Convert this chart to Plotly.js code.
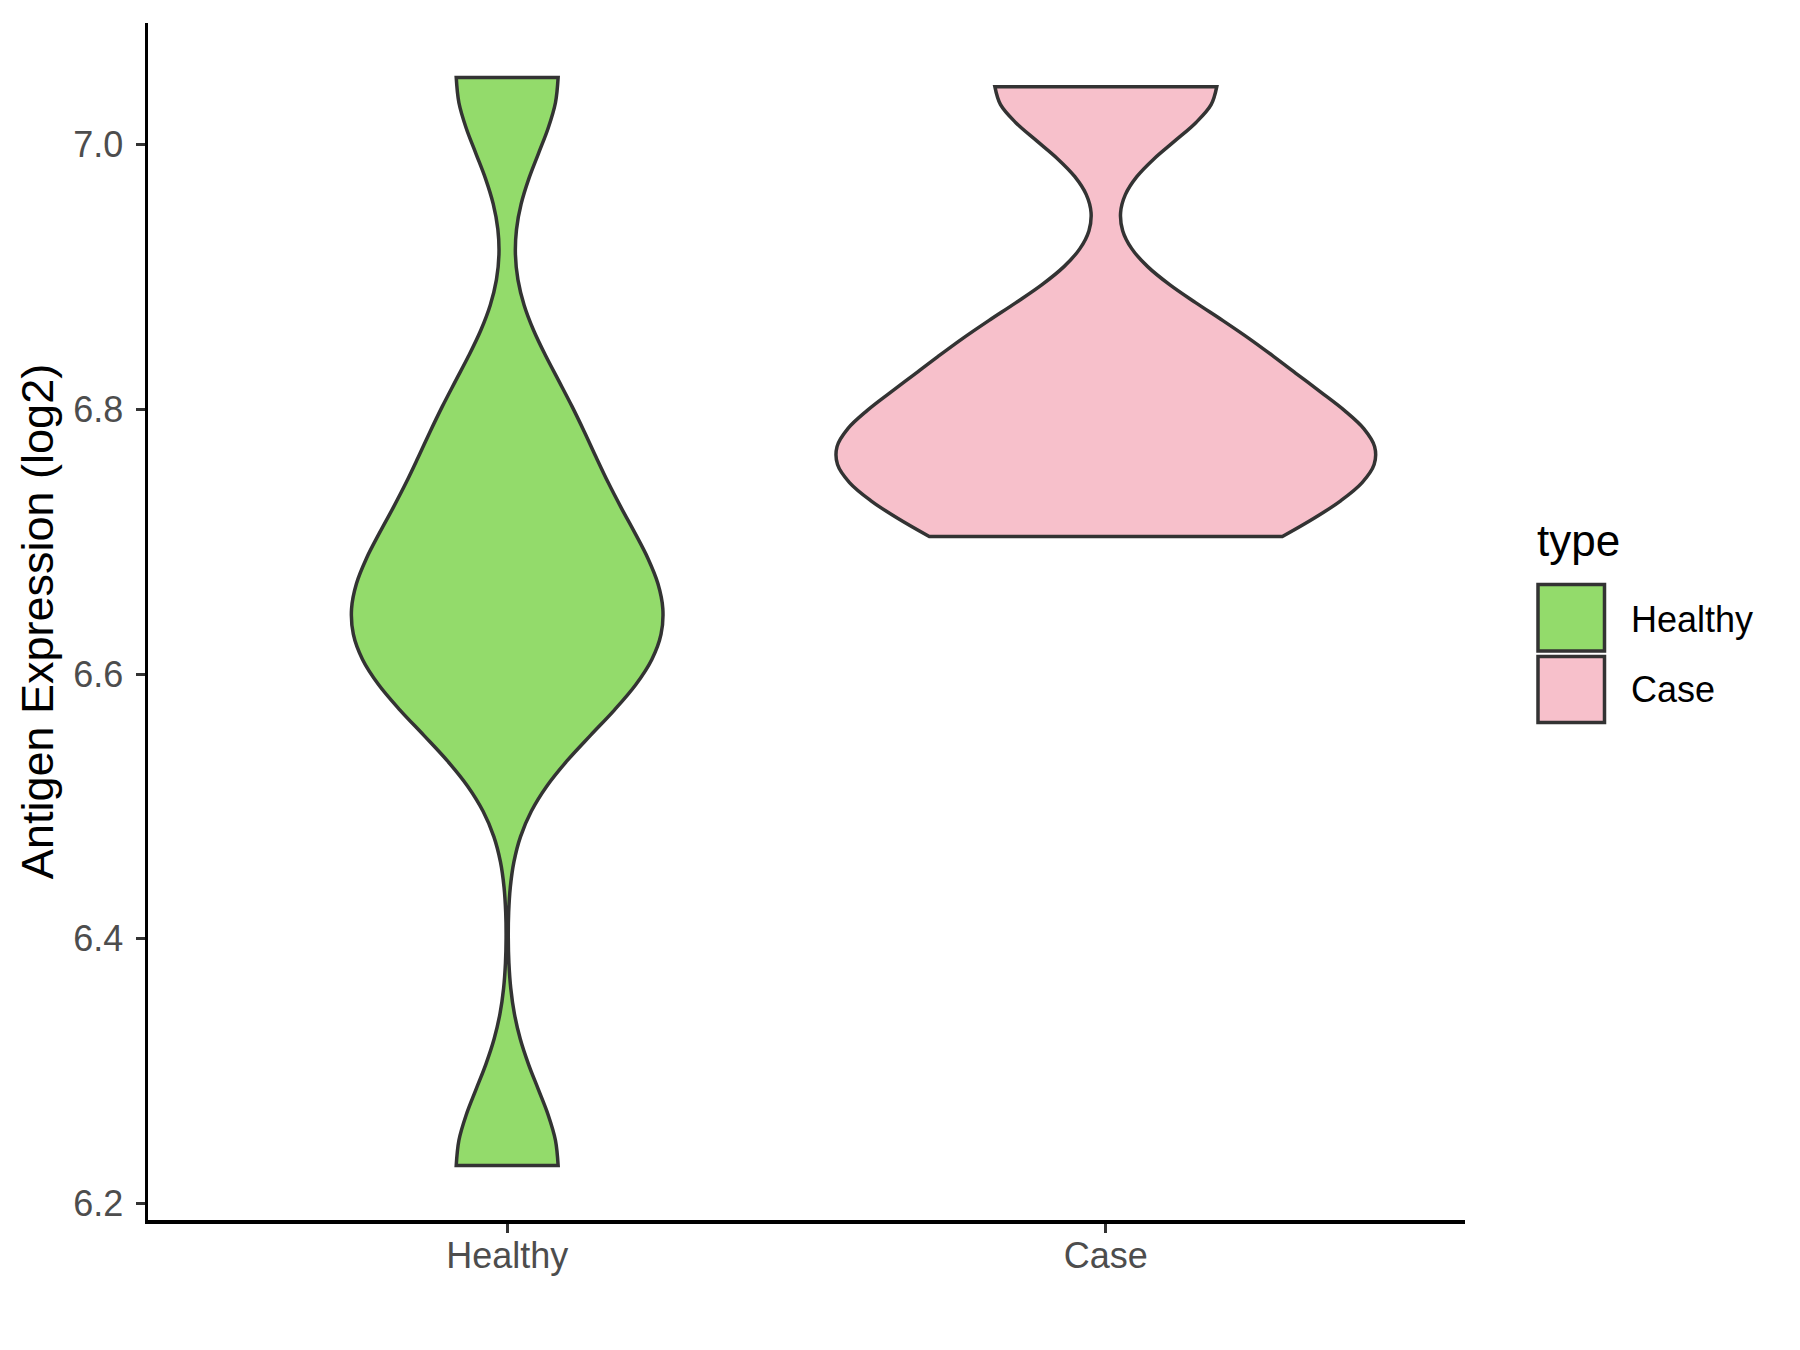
<!DOCTYPE html>
<html>
<head>
<meta charset="utf-8">
<script src="https://cdn.plot.ly/plotly-3.0.1.min.js"></script>
<style>
  html, body { margin: 0; padding: 0; background: #ffffff; }
  #chart { width: 1800px; height: 1350px; }
</style>
</head>
<body>
<div id="chart"></div>
<script>
// ---- data ----
const categories = ['Healthy', 'Case'];
const healthyValues = [6.2286, 6.580, 6.621, 6.660, 6.704, 6.790, 7.051];
const caseValues = [6.704, 6.762, 6.779, 6.848, 7.044];
const bandwidths = [0.058, 0.042];
const yTickValues = [6.2, 6.4, 6.6, 6.8, 7.0];
const yTickLabels = ['6.2', '6.4', '6.6', '6.8', '7.0'];
const legendTitle = 'type';
const yTitle = 'Antigen Expression (log2)';

// ---- styles ----
const fills = ['#93DB6B', '#F7C0CB'];
const outline = '#333333';
const violinWidths = [0.52, 0.898];
const FONT = 'Liberation Sans, Arial, Helvetica, sans-serif';

const W = 1800, H = 1350;
const M = { l: 148, r: 335, t: 23, b: 130 };
const PW = W - M.l - M.r, PH = H - M.t - M.b;
const px2x = px => (px - M.l) / PW;
const px2y = py => (H - M.b - py) / PH;

const series = [healthyValues, caseValues];
const traces = series.map((vals, i) => ({
  type: 'violin',
  name: categories[i],
  x: vals.map(() => categories[i]),
  y: vals,
  spanmode: 'hard',
  bandwidth: bandwidths[i],
  scalemode: 'width',
  width: violinWidths[i],
  points: false,
  box: { visible: false },
  meanline: { visible: false },
  fillcolor: fills[i],
  line: { color: outline, width: 3.5 },
  hoverinfo: 'skip',
  showlegend: false
}));

// y range with ggplot's 5% expansion
const allVals = healthyValues.concat(caseValues);
const yMin = Math.min(...allVals), yMax = Math.max(...allVals);
const pad = (yMax - yMin) * 0.05;

// custom ggplot-like legend
const keyX0 = 1538, keyX1 = 1604.5;
const keyRows = [[584.5, 651], [656.5, 722.5]];
const shapes = keyRows.map((r, i) => ({
  type: 'rect', xref: 'paper', yref: 'paper',
  x0: px2x(keyX0), x1: px2x(keyX1), y0: px2y(r[1]), y1: px2y(r[0]),
  fillcolor: fills[i], line: { color: outline, width: 3.5 }
}));
const labelCenters = [619.5, 689.5];
const annotations = [{
  xref: 'paper', yref: 'paper', x: px2x(1535), y: px2y(540),
  xanchor: 'left', yanchor: 'middle', showarrow: false,
  text: legendTitle, font: { family: FONT, size: 44, color: '#000000' }
}].concat(categories.map((c, i) => ({
  xref: 'paper', yref: 'paper', x: px2x(1629), y: px2y(labelCenters[i]),
  xanchor: 'left', yanchor: 'middle', showarrow: false,
  text: c, font: { family: FONT, size: 36, color: '#000000' }
})));

const layout = {
  width: W, height: H,
  margin: M,
  paper_bgcolor: '#ffffff',
  plot_bgcolor: '#ffffff',
  font: { family: FONT },
  showlegend: false,
  violinmode: 'overlay',
  violingap: 0,
  xaxis: {
    type: 'category',
    categoryorder: 'array',
    categoryarray: categories,
    range: [-0.6, 1.6],
    showline: true, linecolor: '#000000', linewidth: 3.5,
    ticks: 'outside', ticklen: 9, tickwidth: 3, tickcolor: '#333333',
    tickfont: { family: FONT, size: 36, color: '#4D4D4D' },
    ticklabelstandoff: -8,
    showgrid: false, zeroline: false, fixedrange: true
  },
  yaxis: {
    range: [yMin - pad, yMax + pad],
    tickvals: yTickValues, ticktext: yTickLabels,
    showline: true, linecolor: '#000000', linewidth: 3.5,
    ticks: 'outside', ticklen: 9, tickwidth: 3, tickcolor: '#333333',
    tickfont: { family: FONT, size: 36, color: '#4D4D4D' },
    ticklabelstandoff: 5,
    showgrid: false, zeroline: false, fixedrange: true,
    title: { text: yTitle, font: { family: FONT, size: 45, color: '#000000' }, standoff: 6 }
  },
  shapes: shapes,
  annotations: annotations
};

Plotly.newPlot('chart', traces, layout, { staticPlot: true, displayModeBar: false });
</script>
</body>
</html>
